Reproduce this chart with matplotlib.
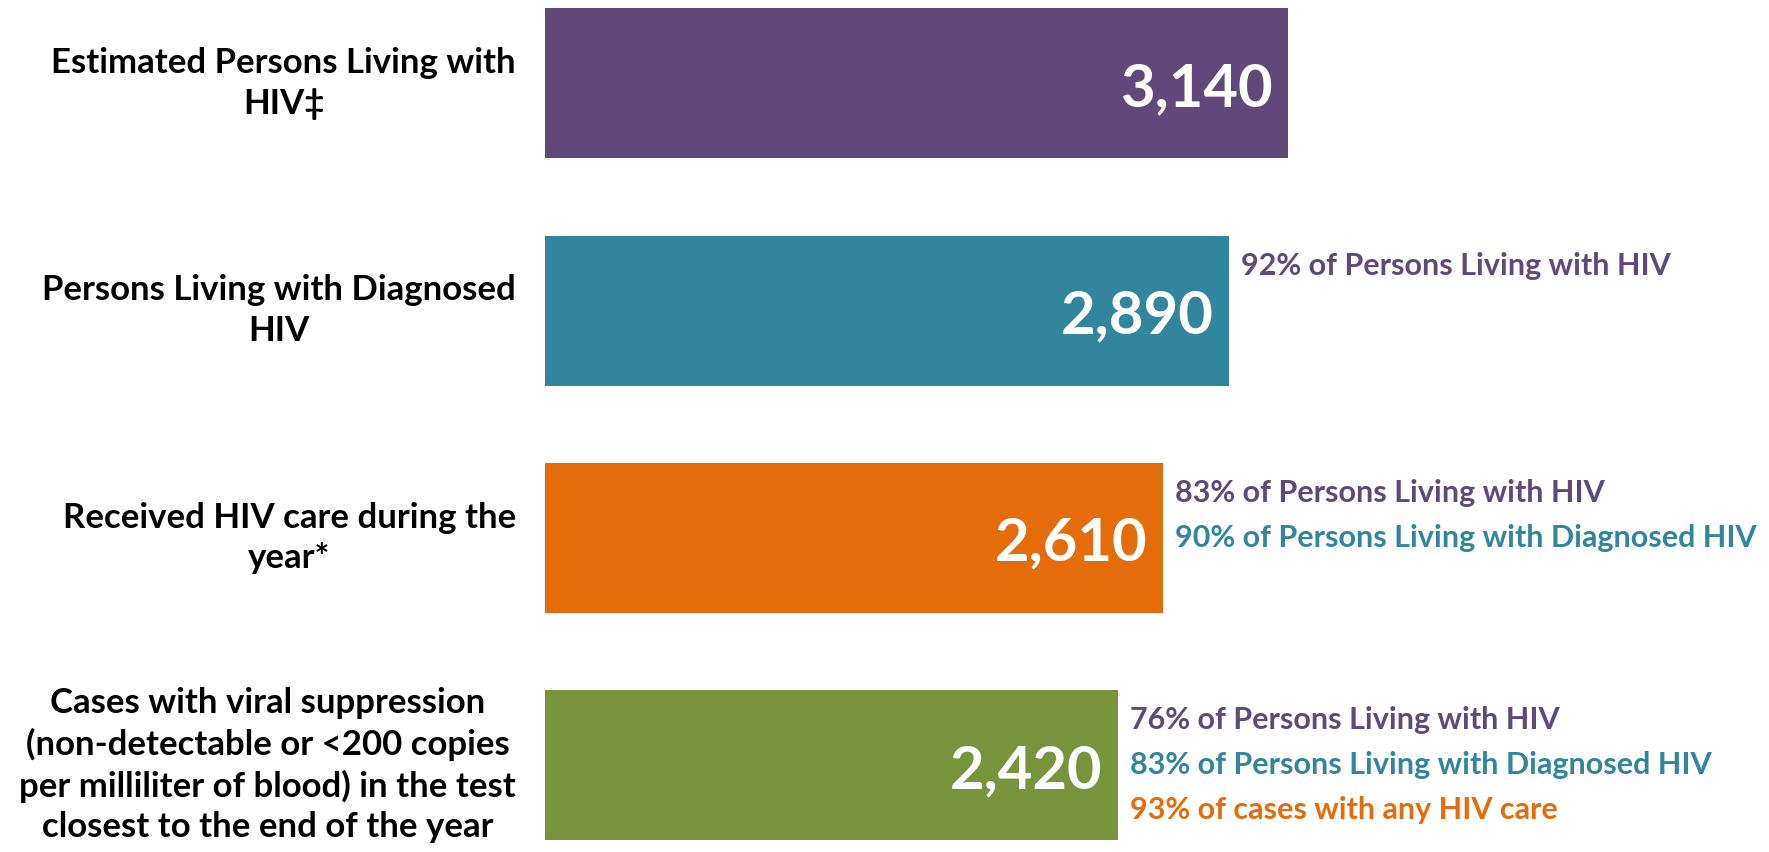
import matplotlib
matplotlib.use("Agg")
import matplotlib.pyplot as plt
import matplotlib.transforms as mtransforms

plt.rcParams['font.family'] = ['Liberation Sans Narrow', 'Lato', 'DejaVu Sans']
plt.rcParams['font.weight'] = 'bold'

# data
categories = [
    "Estimated Persons Living with\nHIV\u2021",
    "Persons Living with Diagnosed\nHIV",
    "Received HIV care during the\nyear*",
    "Cases with viral suppression\n(non-detectable or <200 copies\nper milliliter of blood) in the test\nclosest to the end of the year",
]
values = [3140, 2890, 2610, 2420]
value_labels = ["3,140", "2,890", "2,610", "2,420"]
bar_colors = ["#60497A", "#31859C", "#E46C0A", "#77933C"]

note_texts = [
    [],
    ["92% of Persons Living with HIV"],
    ["83% of Persons Living with HIV", "90% of Persons Living with Diagnosed HIV"],
    ["76% of Persons Living with HIV", "83% of Persons Living with Diagnosed HIV",
     "93% of cases with any HIV care"],
]
note_colors = ["#60497A", "#31859C", "#E46C0A"]

W, H, DPI = 1769, 852, 100
fig = plt.figure(figsize=(W / DPI, H / DPI), dpi=DPI)
left = 545 / W
ax = fig.add_axes([left, 0, 1 - left, 1])

px_per_unit = 0.2366  # pixels per person, from bar widths
ax.set_xlim(0, (W - 545) / px_per_unit)
ax.set_ylim(3.383, -0.367)
ax.axis('off')

ypos = list(range(len(values)))
ax.barh(ypos, values, height=0.66, color=bar_colors)

px = 72 / DPI  # points per pixel

for i, (v, lab) in enumerate(zip(values, value_labels)):
    ax.annotate(lab, xy=(v, i), xytext=(-15 * px, -6 * px), textcoords='offset points',
                ha='right', va='center', color='white', fontsize=43, fontweight='bold')
    for k, t in enumerate(note_texts[i]):
        ax.annotate(t, xy=(v, i), xytext=(12 * px, -(k - 1) * 45 * px), textcoords='offset points',
                    ha='left', va='center', color=note_colors[k], fontsize=22, fontweight='bold')

trans = mtransforms.blended_transform_factory(fig.transFigure, ax.transData)
for i, c in enumerate(categories):
    fig.text(516 / W, i, c, transform=trans, ha='right', va='center', multialignment='center',
             fontsize=25, fontweight='bold', color='black', linespacing=1.32)

fig.savefig("out.png", dpi=DPI)
